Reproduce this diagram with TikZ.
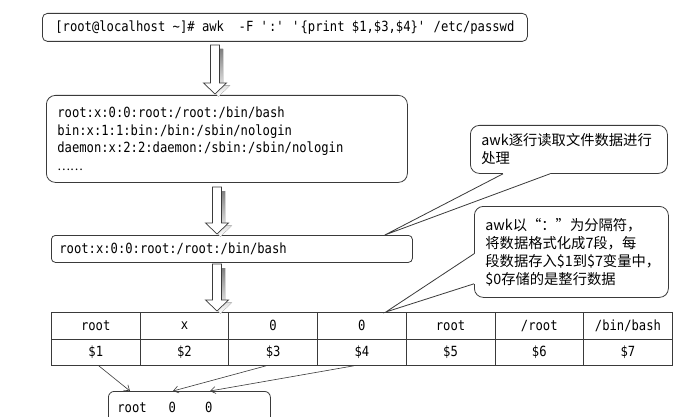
\documentclass[tikz,border=0pt]{standalone}
\usepackage{fontspec}
\usetikzlibrary{arrows.meta,calc}
\newfontfamily\monof[FakeStretch=0.87]{DejaVu Sans Mono}
\newfontfamily\cjkf{Noto Sans CJK SC}
\definecolor{edge}{HTML}{3A3A3A}
\definecolor{shade}{HTML}{A8A8A8}
\newcommand\blockarr[2]{%
  \fill[shade] let \p1=(#1), \p2=(#2) in
    (\x1-1pt,\y1-4pt) -- (\x1-1pt,\y2+8.5pt) -- (\x1-8pt,\y2+8.5pt) -- (\x1+3.5pt,\y2-2.5pt) --
    (\x1+15pt,\y2+8.5pt) -- (\x1+8pt,\y2+8.5pt) -- (\x1+8pt,\y1-4pt) -- cycle;
  \draw[edge, line width=0.7pt, fill=white, line join=miter] let \p1=(#1), \p2=(#2) in
    (\x1-4.5pt,\y1) -- (\x1-4.5pt,\y2+11pt) -- (\x1-11.5pt,\y2+11pt) -- (\x1,\y2) --
    (\x1+11.5pt,\y2+11pt) -- (\x1+4.5pt,\y2+11pt) -- (\x1+4.5pt,\y1) -- cycle;
}
\tikzset{
  boxbase/.style={draw=edge, line width=0.8pt, fill=white, anchor=north west, inner ysep=0pt},
  monotext/.style={font=\monof\fontsize{14}{17.5}\selectfont, text=black},
  cell/.style={draw=edge, line width=0.8pt, anchor=north west, inner sep=0pt,
    minimum width=88.7pt, monotext},
  callbox/.style={boxbase, rounded corners=9pt, align=left,
    font=\cjkf\fontsize{14.3}{18}\selectfont, text=black},
  thinarr/.style={draw=edge, line width=0.6pt, -{Straight Barb[length=5pt,width=7pt]}},
  wedge/.style={draw=edge, line width=0.8pt},
}
\begin{document}
\begin{tikzpicture}[x=1pt, y=-1pt]
\useasboundingbox (0,0) rectangle (674,417);
\clip (0,0) rectangle (674,417);
\fill[white] (0,0) rectangle (674,417);

% command box
\node[boxbase, monotext, rounded corners=5pt, minimum width=485pt, minimum height=28pt, inner xsep=0pt]
  (cmd) at (42,13)
  {[root@localhost \textasciitilde]\# awk\ \ -F \textquotesingle:\textquotesingle\ \textquotesingle\{print \$1,\$3,\$4\}\textquotesingle\ /etc/passwd};

% file content box
\node[boxbase, monotext, rounded corners=9pt, minimum height=87pt, text width=339pt,
  inner xsep=11pt, align=left] (file) at (46,95)
  {root:x:0:0:root:/root:/bin/bash\\
   bin:x:1:1:bin:/bin:/sbin/nologin\\
   daemon:x:2:2:daemon:/sbin:/sbin/nologin\\
   {\cjkf\fontsize{12}{14}\selectfont\symbol{"2026}\symbol{"2026}}};

% single line box
\node[boxbase, monotext, rounded corners=4pt, minimum height=27pt, text width=345pt,
  inner xsep=8pt, align=left] (line) at (51,235)
  {root:x:0:0:root:/root:/bin/bash};

% table
\foreach \t [count=\i] in {root,x,0,0,root,/root,/bin/bash}
  \node[cell, minimum height=27pt] (t1\i) at ({51+88.7*(\i-1)},312) {\t};
\foreach \t [count=\i] in {\$1,\$2,\$3,\$4,\$5,\$6,\$7}
  \node[cell, minimum height=26pt] (t2\i) at ({51+88.7*(\i-1)},339) {\t};

% result box
\node[boxbase, monotext, rounded corners=6pt, minimum height=32pt, text width=144pt,
  inner xsep=9pt, align=left] (res) at (108,391)
  {root\hspace{22pt}0\hspace{29pt}0};

% block arrows
\coordinate (a1s) at (215,45);  \coordinate (a1e) at (215,94);
\coordinate (a2s) at (217,187); \coordinate (a2e) at (217,234);
\coordinate (a3s) at (217,264); \coordinate (a3e) at (217,311);
\blockarr{a1s}{a1e}
\blockarr{a2s}{a2e}
\blockarr{a3s}{a3e}

% thin arrows to result
\draw[thinarr] ($(t21.south)+(3,0)$) -- ($(res.north west)+(22,0)$);
\draw[thinarr] ($(t23.south)+(-7,0)$) -- ($(res.north west)+(65,0)$);
\draw[thinarr] ($(t24.south)+(-8,0)$) -- ($(res.north west)+(102,0)$);

% callout 1
\node[callbox, minimum height=48pt, text width=175pt, inner xsep=11pt] (co1) at (470,125)
  {awk逐行读取文件数据进行\\处理};
\coordinate (c1a) at ($(co1.south west)+(33,0)$);
\coordinate (c1b) at ($(co1.south west)+(80,0)$);
\coordinate (c1t) at ($(line.north east)+(-28,0)$);
\fill[white] (c1a) -- (c1t) -- (c1b) -- ($(c1b)+(0,-1.5)$) -- ($(c1a)+(0,-1.5)$) -- cycle;
\draw[wedge] (c1a) -- (c1t) -- (c1b);

% callout 2
\node[callbox, minimum height=91pt, text width=172pt, inner xsep=11pt] (co2) at (474,206)
  {awk以“：”为分隔符，\\将数据格式化成7段，每\\段数据存入\$1到\$7变量中，\\\$0存储的是整行数据};
\coordinate (c2a) at ($(co2.south west)+(0,-44)$);
\coordinate (c2b) at ($(co2.south west)+(0,-14)$);
\coordinate (c2t) at ($(t14.north)+(24,0)$);
\fill[white] (c2a) -- (c2t) -- (c2b) -- ($(c2b)+(1.5,0)$) -- ($(c2a)+(1.5,0)$) -- cycle;
\draw[wedge] (c2a) -- (c2t) -- (c2b);
\end{tikzpicture}
\end{document}
